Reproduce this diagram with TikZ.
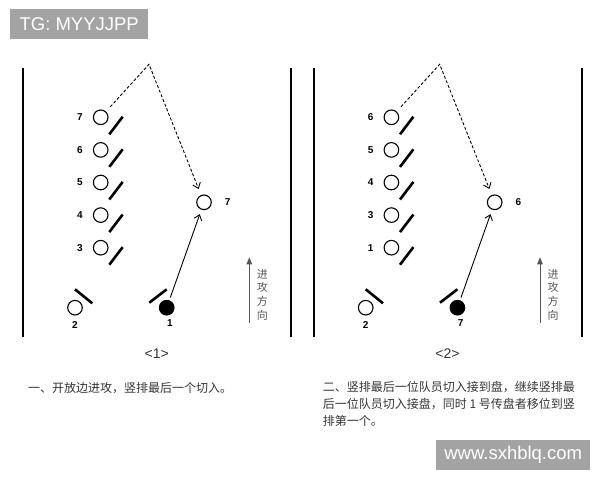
\documentclass[tikz,border=0pt]{standalone}
\usepackage{fontspec}
\setsansfont{Liberation Sans}
\newfontfamily\cjk{Noto Sans CJK SC}
\usepackage{tikz}
\usetikzlibrary{positioning}
\usetikzlibrary{arrows.meta}
\usepackage{xcolor}
\definecolor{wmgray}{HTML}{A3A3A3}
\definecolor{txtgray}{HTML}{333333}
\definecolor{dirgray}{HTML}{555555}

\tikzset{
  player/.style={circle,draw,line width=1.1pt,minimum size=14.6pt,inner sep=0pt},
  holder/.style={circle,draw,fill=black,line width=1.1pt,minimum size=14.6pt,inner sep=0pt},
  num/.style={font=\sffamily\bfseries\fontsize{10}{12}\selectfont},
  stick/.style={line width=2.6pt},
  sideline/.style={line width=1.8pt},
  pass/.style={dash pattern=on 3pt off 2pt,line width=0.9pt,-{Straight Barb[length=5pt,width=8pt]}},
  run/.style={line width=0.9pt,-{Straight Barb[length=5pt,width=8pt]}},
  dir/.style={draw=dirgray,line width=1pt,-{Triangle[length=7pt,width=5.5pt]}},
  dirtext/.style={text=dirgray,align=center,inner sep=0pt,font=\cjk\fontsize{11}{13.7}\selectfont},
  title/.style={text=txtgray,font=\sffamily\fontsize{14}{16}\selectfont},
  note/.style={text=txtgray,align=left,inner sep=0pt,font=\cjk\fontsize{12}{17}\selectfont},
  wm/.style={fill=wmgray,text=white,font=\sffamily\fontsize{18.5}{20}\selectfont,inner sep=0pt,minimum height=29.5pt}
}

\begin{document}
\begin{tikzpicture}[x=1pt,y=1pt,node distance=32.6pt,on grid]
   \useasboundingbox (0,0) rectangle (600,480);
   \node[wm,minimum width=138pt,anchor=south west] (wm_1) at (10,441) {TG: MYYJJPP};
   \node[wm,minimum width=154pt,anchor=south west] (wm_2) at (436,10) {www.sxhblq.com};

   % <1>
   \draw[sideline] (23,143) -- (23,412);
   \draw[sideline] (291,143) -- (291,412);
   \node[player] (a_1) at (100.7,362.7) {};
   \node[player] (a_2) [below=of a_1] {};
   \node[player] (a_3) [below=of a_2] {};
   \node[player] (a_4) [below=of a_3] {};
   \node[player] (a_5) [below=of a_4] {};
   \node[num] (la_1) [left=20.7pt of a_1] {7};
   \node[num] (la_2) [left=20.7pt of a_2] {6};
   \node[num] (la_3) [left=20.7pt of a_3] {5};
   \node[num] (la_4) [left=20.7pt of a_4] {4};
   \node[num] (la_5) [left=20.7pt of a_5] {3};
   \node[player] (a_f) at (204,277.7) {};
   \node[num] (la_f) [right=23.7pt of a_f] {7};
   \node[player] (a_two) at (75,172.3) {};
   \node[holder] (a_b) at (166.7,172.3) {};
   \node[num] (la_two) [below=17pt of a_two] {2};
   \node[num] (la_b) [below=15.6pt of a_b,xshift=3.3pt] {1};
   \coordinate (a_top) at (149,415.7);
   \draw[stick] (a_1) ++(8.6,-17) -- ++(13.4,17.6);
   \draw[stick] (a_2) ++(8.6,-17) -- ++(13.4,17.6);
   \draw[stick] (a_3) ++(8.6,-17) -- ++(13.4,17.6);
   \draw[stick] (a_4) ++(8.6,-17) -- ++(13.4,17.6);
   \draw[stick] (a_5) ++(8.6,-17) -- ++(13.4,17.6);
   \draw[stick] (a_two) ++(0,18.4) -- ++(17.3,-14);
   \draw[stick] (a_b) ++(-17.4,5) -- ++(17.4,13.4);
   \draw[pass,shorten <=6.3pt,shorten >=6.5pt] (a_1) -- (a_top) -- (a_f);
   \draw[run,shorten <=3pt,shorten >=4.7pt] (a_b) -- (a_f);
   \coordinate (a_d1) at (249.3,157.3);
   \coordinate (a_d2) at (249.3,222.7);
   \draw[dir] (a_d1) -- (a_d2);
   \node[dirtext] (a_dt) at (262.3,185.5) {进\\攻\\方\\向};
   \node[title] (a_t) at (156.7,126.7) {<1>};

   % <2>
   \begin{scope}[xshift=290.7pt]
   \draw[sideline] (23,143) -- (23,412);
   \draw[sideline] (291,143) -- (291,412);
   \node[player] (b_1) at (100.7,362.7) {};
   \node[player] (b_2) [below=of b_1] {};
   \node[player] (b_3) [below=of b_2] {};
   \node[player] (b_4) [below=of b_3] {};
   \node[player] (b_5) [below=of b_4] {};
   \node[num] (lb_1) [left=20.7pt of b_1] {6};
   \node[num] (lb_2) [left=20.7pt of b_2] {5};
   \node[num] (lb_3) [left=20.7pt of b_3] {4};
   \node[num] (lb_4) [left=20.7pt of b_4] {3};
   \node[num] (lb_5) [left=20.7pt of b_5] {1};
   \node[player] (b_f) at (204,277.7) {};
   \node[num] (lb_f) [right=23.7pt of b_f] {6};
   \node[player] (b_two) at (75,172.3) {};
   \node[holder] (b_b) at (166.7,172.3) {};
   \node[num] (lb_two) [below=17pt of b_two] {2};
   \node[num] (lb_b) [below=15.6pt of b_b,xshift=3.3pt] {7};
   \coordinate (b_top) at (149,415.7);
   \draw[stick] (b_1) ++(8.6,-17) -- ++(13.4,17.6);
   \draw[stick] (b_2) ++(8.6,-17) -- ++(13.4,17.6);
   \draw[stick] (b_3) ++(8.6,-17) -- ++(13.4,17.6);
   \draw[stick] (b_4) ++(8.6,-17) -- ++(13.4,17.6);
   \draw[stick] (b_5) ++(8.6,-17) -- ++(13.4,17.6);
   \draw[stick] (b_two) ++(0,18.4) -- ++(17.3,-14);
   \draw[stick] (b_b) ++(-17.4,5) -- ++(17.4,13.4);
   \draw[pass,shorten <=6.3pt,shorten >=6.5pt] (b_1) -- (b_top) -- (b_f);
   \draw[run,shorten <=3pt,shorten >=4.7pt] (b_b) -- (b_f);
   \coordinate (b_d1) at (249.3,157.3);
   \coordinate (b_d2) at (249.3,222.7);
   \draw[dir] (b_d1) -- (b_d2);
   \node[dirtext] (b_dt) at (262.3,185.5) {进\\攻\\方\\向};
   \node[title] (b_t) at (156.7,126.7) {<2>};
   \end{scope}

   \node[note,anchor=west] (t_1) at (28,92.3) {一、开放边进攻，竖排最后一个切入。};
   \node[note,anchor=west] (t_2) at (322.7,75.7)
     {二、竖排最后一位队员切入接到盘，继续竖排最\\后一位队员切入接盘，同时 1 号传盘者移位到竖\\排第一个。};
\end{tikzpicture}
\end{document}
